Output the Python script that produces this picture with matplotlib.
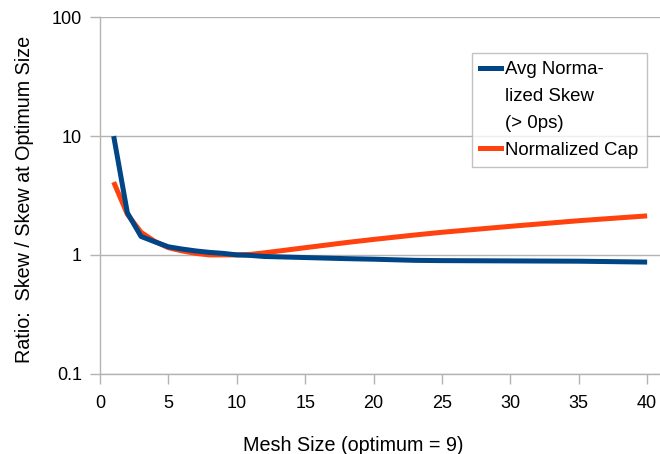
import matplotlib
matplotlib.use("Agg")
import matplotlib.pyplot as plt
from matplotlib.lines import Line2D
from matplotlib.ticker import FixedLocator, FixedFormatter, NullLocator

plt.rcParams['font.family'] = ['Liberation Sans', 'DejaVu Sans']

# values
mesh_size = [1, 2, 3, 4, 5, 6, 7, 8, 9, 10, 11, 12, 15, 18, 20, 23, 25, 30, 35, 40]
avg_skew = [10.0, 2.26, 1.43, 1.29, 1.17, 1.12, 1.08, 1.05, 1.03, 1.0,
            0.99, 0.97, 0.95, 0.93, 0.92, 0.90, 0.895, 0.89, 0.885, 0.87]
norm_cap = [4.1, 2.2, 1.55, 1.3, 1.15, 1.08, 1.03, 1.0, 1.0, 1.0,
            1.01, 1.04, 1.15, 1.27, 1.35, 1.47, 1.55, 1.74, 1.94, 2.13]

y_ticks = [0.1, 1, 10, 100]
y_tick_labels = ['0.1', '1', '10', '100']
x_ticks = [0, 5, 10, 15, 20, 25, 30, 35, 40]

BLUE = '#004586'
ORANGE = '#ff420e'
GRAY = '#b3b3b3'

fig = plt.figure(figsize=(6.6, 4.54), dpi=100)
ax = fig.add_axes([100 / 660, 80.3 / 454, 560 / 660, 356.4 / 454])

ax.plot(mesh_size, norm_cap, color=ORANGE, lw=3.6, solid_capstyle='butt', zorder=3)
ax.plot(mesh_size, avg_skew, color=BLUE, lw=3.6, solid_capstyle='butt', zorder=4)

ax.set_yscale('log')
ax.set_ylim(0.1, 100)
ax.set_xlim(0, 40.94)
ax.yaxis.set_major_locator(FixedLocator(y_ticks))
ax.yaxis.set_major_formatter(FixedFormatter(y_tick_labels))
ax.yaxis.set_minor_locator(NullLocator())
ax.set_xticks(x_ticks)

ax.grid(axis='y', color=GRAY, lw=1)
ax.set_axisbelow(True)
for side in ['top', 'right']:
    ax.spines[side].set_visible(False)
for side in ['left', 'bottom']:
    ax.spines[side].set_color(GRAY)
    ax.spines[side].set_linewidth(1)
ax.tick_params(axis='both', colors=GRAY, length=7, width=1, labelcolor='black', labelsize=13)
ax.tick_params(axis='y', pad=6)
ax.tick_params(axis='x', pad=8)

ax.set_xlabel('Mesh Size (optimum = 9)', fontsize=14.2)
ax.xaxis.set_label_coords((353 - 100) / 560, -0.175)
ax.set_ylabel('Ratio:  Skew / Skew at Optimum Size', fontsize=14.2)
ax.yaxis.set_label_coords(-0.118, 0.49)

# legend: the wrapped label gets blank rows so the handle stays on the first line
blank = Line2D([], [], color='none')
handles = [Line2D([], [], color=BLUE, lw=3.6), blank, blank,
           Line2D([], [], color=ORANGE, lw=3.6)]
labels = ['Avg Norma-', 'lized Skew', '(> 0ps)', 'Normalized Cap']
leg = ax.legend(handles, labels, loc='upper right',
                bbox_to_anchor=((647 - 100) / 560, (373.7 - 53) / 356.4),
                fontsize=13.4, frameon=True, fancybox=False, borderaxespad=0,
                handlelength=1.12, handletextpad=0.22, labelspacing=0.52,
                borderpad=0.45)
leg.get_frame().set_edgecolor(GRAY)
leg.get_frame().set_linewidth(1)

fig.savefig('out.png', dpi=100)
